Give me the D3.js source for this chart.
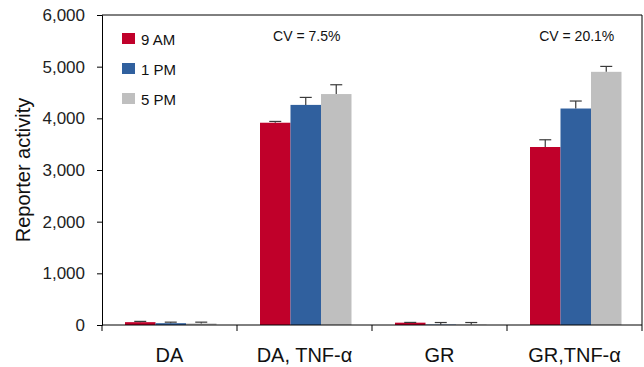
<!DOCTYPE html>
<html>
<head>
<meta charset="utf-8">
<script src="https://cdn.jsdelivr.net/npm/d3@7"></script>
<style>
  body { margin: 0; background: #fff; }
  svg { font-family: "Liberation Sans", Arial, sans-serif; }
</style>
</head>
<body>
<div id="chart"></div>
<script>
// --- data ---
const categories = ["DA", "DA, TNF-\u03b1", "GR", "GR,TNF-\u03b1"];
const times = ["9 AM", "1 PM", "5 PM"];
const values = {
  "9 AM": [55, 3915, 45, 3445],
  "1 PM": [35, 4260, 8, 4190],
  "5 PM": [30, 4470, 8, 4900]
};
const errors = {
  "9 AM": [15, 25, 5, 140],
  "1 PM": [20, 145, 40, 145],
  "5 PM": [25, 180, 40, 105]
};
const cvLabels = [{ cat: "DA, TNF-\u03b1", text: "CV = 7.5%" }, { cat: "GR,TNF-\u03b1", text: "CV = 20.1%" }];
const yTicks = [0, 1000, 2000, 3000, 4000, 5000, 6000];

const colors = { "9 AM": "#c0002a", "1 PM": "#30609e", "5 PM": "#bfbfbf" };

const width = 644, height = 367;
const margin = { top: 15, right: 2, bottom: 42, left: 102 };

const svg = d3.select("#chart").append("svg")
    .attr("width", width).attr("height", height);

const x = d3.scaleBand().domain(categories).range([margin.left, width - margin.right]);
const y = d3.scaleLinear().domain([0, 6000]).range([height - margin.bottom, margin.top]);
const barW = 30.5;
const x1 = d3.scaleBand().domain(times).range([0, barW * 3]);
const groupOffset = 23;

// bars
const rows = [];
categories.forEach((c, i) => times.forEach(t => rows.push({ cat: c, time: t, v: values[t][i], e: errors[t][i] })));

svg.append("g").selectAll("rect").data(rows).join("rect")
    .attr("x", d => x(d.cat) + groupOffset + x1(d.time))
    .attr("width", x1.bandwidth())
    .attr("y", d => y(d.v))
    .attr("height", d => y(0) - y(d.v))
    .attr("fill", d => colors[d.time]);

// error bars (upper only)
const eb = svg.append("g").attr("stroke", "#3a3a3a").attr("stroke-width", 1.2);
rows.forEach(d => {
  const cx = x(d.cat) + groupOffset + x1(d.time) + x1.bandwidth() / 2;
  eb.append("line").attr("x1", cx).attr("x2", cx).attr("y1", y(d.v)).attr("y2", y(d.v + d.e));
  eb.append("line").attr("x1", cx - 6).attr("x2", cx + 6).attr("y1", y(d.v + d.e)).attr("y2", y(d.v + d.e));
});

// frame: top and right
svg.append("path")
    .attr("d", `M${margin.left},${margin.top}H${width - margin.right}V${y(0)}`)
    .attr("fill", "none").attr("stroke", "#000").attr("stroke-width", 1);

// y axis
const yAxis = svg.append("g").attr("transform", `translate(${margin.left},0)`)
    .call(d3.axisLeft(y).tickValues(yTicks).tickFormat(d3.format(",")).tickSize(5).tickPadding(12));
yAxis.select(".domain").attr("stroke", "#000");
yAxis.selectAll("text").attr("font-size", 17).attr("fill", "#222")
    .style("font-family", "'Liberation Sans', Arial, sans-serif");

// x axis with ticks at category boundaries
const xg = svg.append("g");
xg.append("line").attr("x1", margin.left).attr("x2", width - margin.right)
    .attr("y1", y(0)).attr("y2", y(0)).attr("stroke", "#000");
const bounds = categories.map(c => x(c)).concat([x.range()[1]]);
xg.selectAll(".tk").data(bounds).join("line")
    .attr("x1", d => d).attr("x2", d => d)
    .attr("y1", y(0)).attr("y2", y(0) + 6).attr("stroke", "#000");
xg.selectAll("text").data(categories).join("text")
    .attr("x", d => x(d) + x.bandwidth() / 2)
    .attr("y", 362)
    .attr("text-anchor", "middle")
    .attr("font-size", 20).attr("fill", "#111")
    .text(d => d);

// y label
svg.append("text")
    .attr("transform", `translate(30,${(y(0) + y(6000)) / 2}) rotate(-90)`)
    .attr("text-anchor", "middle")
    .attr("font-size", 20).attr("fill", "#111")
    .text("Reporter activity");

// legend
const lg = svg.append("g").attr("transform", "translate(122,33)");
times.forEach((t, i) => {
  lg.append("rect").attr("x", 0).attr("y", i * 30).attr("width", 13).attr("height", 11).attr("fill", colors[t]);
  lg.append("text").attr("x", 19).attr("y", i * 30 + 11.5).attr("font-size", 15).attr("fill", "#111").text(t);
});

// CV labels
svg.selectAll(".cv").data(cvLabels).join("text")
    .attr("x", d => x(d.cat) + groupOffset + barW * 1.5 + 1)
    .attr("y", 41)
    .attr("text-anchor", "middle")
    .attr("font-size", 14).attr("fill", "#111")
    .text(d => d.text);
</script>
</body>
</html>
